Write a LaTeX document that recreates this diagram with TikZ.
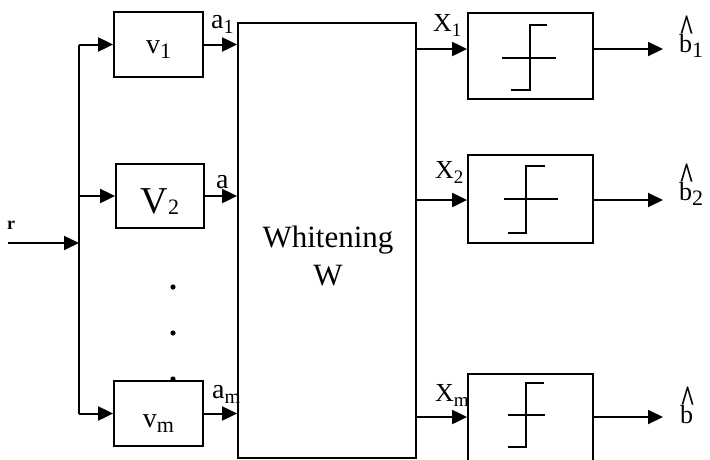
\documentclass[tikz,border=0pt]{standalone}
\usepackage{fontspec}
\setmainfont{Liberation Serif}
\usetikzlibrary{arrows.meta}
\newcommand\mysub[2][20]{\raisebox{-0.2em}{\fontsize{#1}{#1}\selectfont #2}}
\newcommand\bighat{\rlap{\hspace{0pt}\raisebox{11pt}[0pt][0pt]{\scalebox{1.0}[1.5]{\bfseries\textasciicircum}}}}
\begin{document}
\begin{tikzpicture}[x=1pt,y=-1pt,
  blk/.style={draw, line width=1.8pt, inner sep=0pt},
  lab/.style={inner sep=0pt, font=\fontsize{28}{30}\selectfont},
  xlab/.style={inner sep=0pt, font=\fontsize{26}{28}\selectfont, anchor=base west},
  blab/.style={inner sep=0pt, font=\fontsize{26}{28}\selectfont, anchor=base west},
  arr/.style={line width=2pt, -{Triangle[length=15pt,width=14pt]}},
  wire/.style={line width=2pt},
  thin/.style={line width=1.4pt}]
\useasboundingbox (0,0) rectangle (710,459);
% blocks
\node[blk, minimum width=89pt, minimum height=65pt] (v1) at (158.5,44.5) {};
\node[blk, minimum width=88pt, minimum height=64pt] (v2) at (160,196) {};
\node[blk, minimum width=89pt, minimum height=65pt] (vm) at (158.5,413.5) {};
\node[blk, minimum width=178pt, minimum height=435pt] (W) at (327,240.5) {};
\node[blk, minimum width=125pt, minimum height=86pt] (q1) at (530.5,56) {};
\node[blk, minimum width=125pt, minimum height=88pt] (q2) at (530.5,199) {};
\node[blk, minimum width=125pt, minimum height=106pt] (qm) at (530.5,427) {};
% block texts
\node[lab, anchor=base] (tv1) at (158.5,53) {v\mysub[22]{1}};
\node[lab, anchor=base, font=\fontsize{38}{40}\selectfont] (tv2) at (160,213) {V\raisebox{-1pt}{\fontsize{22}{22}\selectfont 2}};
\node[lab, anchor=base] (tvm) at (158.5,427) {v\mysub[22]{m}};
\node[lab, anchor=base, align=center, font=\fontsize{31}{38}\selectfont] (tW) at (328,285) {Whitening\\W};
% input
\node[inner sep=0pt, anchor=base, font=\bfseries\fontsize{18}{18}\selectfont] (r) at (11,229) {r};
\coordinate (rin) at (8,243);
\coordinate (b0) at (79,243);
\coordinate (b1) at (79,44.5);
\coordinate (b2) at (79,196);
\coordinate (bm) at (79,413.5);
\draw[arr] (rin) -- (b0);
\draw[wire] (b1) -- (bm);
\draw[arr] (b1) -- (v1.west);
\draw[arr] (b2) -- (v2.west);
\draw[arr] (bm) -- (vm.west);
% dots
\fill (173,287) circle (2.6pt);
\fill (173,333) circle (2.6pt);
\fill (173,379) circle (2.6pt);
% to whitening
\draw[arr] (v1.east) -- (v1.east -| W.west);
\draw[arr] (v2.east) -- (v2.east -| W.west);
\draw[arr] (vm.east) -- (vm.east -| W.west);
\node[lab, anchor=base west] (a1) at (211,28) {a\mysub{1}};
\node[lab, anchor=base west] (a2) at (216,188) {a};
\node[lab, anchor=base west] (am) at (212,398) {a\mysub{m}};
% whitening outputs
\coordinate (o1) at (416,49);
\coordinate (o2) at (416,200);
\coordinate (om) at (416,417);
\draw[arr] (o1) -- (o1 -| q1.west);
\draw[arr] (o2) -- (o2 -| q2.west);
\draw[arr] (om) -- (om -| qm.west);
\node[xlab] (x1) at (433,31) {X\mysub[19]{1}};
\node[xlab] (x2) at (435,178) {X\mysub[19]{2}};
\node[xlab] (xm) at (435,401) {X\mysub[19]{m}};
% step symbols
\draw[thin] (502,58) -- (556,58);
\draw[thin] (511,90) -- (530,90) -- (530,25) -- (547,25);
\draw[thin] (504,199) -- (558,199);
\draw[thin] (508,233) -- (526,233) -- (526,166) -- (545,166);
\draw[thin] (508,415) -- (545,415);
\draw[thin] (508,447) -- (526,447) -- (526,383) -- (544,383);
% outputs
\coordinate (e1) at (663,49);
\coordinate (e2) at (663,200);
\coordinate (em) at (663,417);
\draw[arr] (o1 -| q1.east) -- (e1);
\draw[arr] (o2 -| q2.east) -- (e2);
\draw[arr] (om -| qm.east) -- (em);
\node[blab] (h1) at (679,52) {\bighat b\mysub[22]{1}};
\node[blab] (h2) at (679,200) {\bighat b\mysub[22]{2}};
\node[blab] (hm) at (680,423) {\bighat b};
\end{tikzpicture}
\end{document}
